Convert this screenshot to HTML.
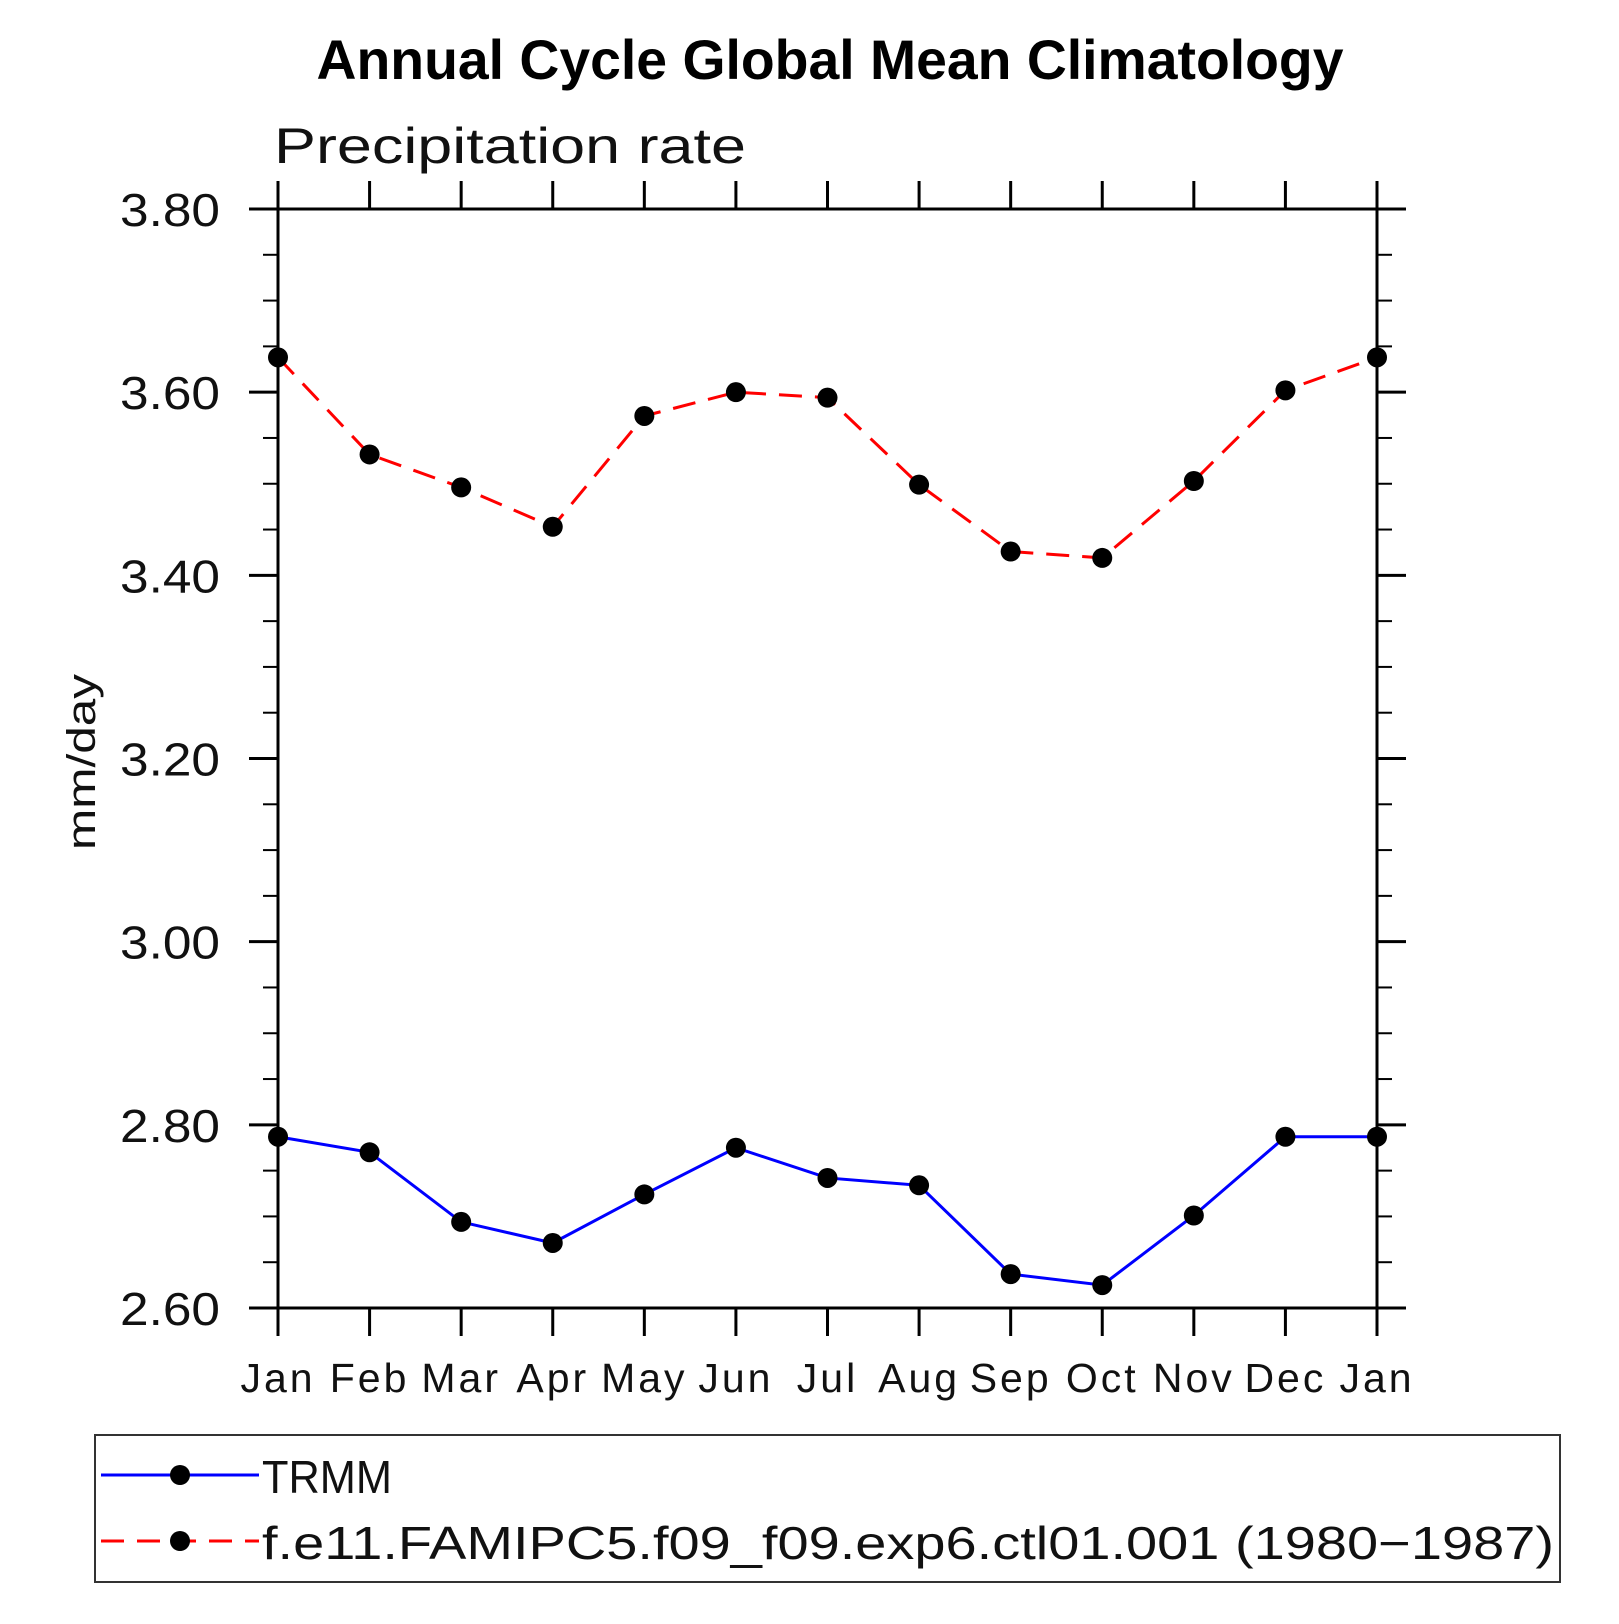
<!DOCTYPE html>
<html><head><meta charset="utf-8"><style>
html,body{margin:0;padding:0;background:#fff}
svg text{font-family:"Liberation Sans",sans-serif}
</style></head><body>
<svg id="chart" width="1619" height="1619" viewBox="0 0 1619 1619" xmlns="http://www.w3.org/2000/svg">
<text x="830" y="79" text-anchor="middle" font-size="56" font-weight="bold" textLength="1027" lengthAdjust="spacingAndGlyphs">Annual Cycle Global Mean Climatology</text>
<text x="274" y="163" font-size="50" fill="#111" textLength="472" lengthAdjust="spacingAndGlyphs">Precipitation rate</text>
<text transform="translate(95,762) rotate(-90)" text-anchor="middle" font-size="40" fill="#111" textLength="176" lengthAdjust="spacingAndGlyphs">mm/day</text>
<g id="axes"></g>
<g id="series"></g>
<rect x="95" y="1435" width="1465" height="147" fill="none" stroke="#333" stroke-width="2"/>
<g>
<line x1="101" y1="1475" x2="259" y2="1475" stroke="#0000ff" stroke-width="3"/>
<circle cx="180" cy="1475" r="10"/>
<text x="262" y="1493" font-size="46" fill="#111" textLength="130" lengthAdjust="spacingAndGlyphs">TRMM</text>
</g>
<g>
<line x1="101" y1="1541" x2="259" y2="1541" stroke="#ff0000" stroke-width="3" stroke-dasharray="23,13"/>
<circle cx="180" cy="1541" r="10"/>
<text x="262" y="1559" font-size="46" fill="#111" textLength="1292" lengthAdjust="spacingAndGlyphs">f.e11.FAMIPC5.f09_f09.exp6.ctl01.001 (1980−1987)</text>
</g>
</svg>
<script>
const months = ["Jan","Feb","Mar","Apr","May","Jun","Jul","Aug","Sep","Oct","Nov","Dec","Jan"];
const trmmValues = [2.787,2.770,2.694,2.671,2.724,2.775,2.742,2.734,2.637,2.625,2.701,2.787,2.787];
const modelValues = [3.638,3.532,3.496,3.453,3.574,3.600,3.594,3.499,3.426,3.419,3.503,3.602,3.638];
const yTickLabels = ["2.60","2.80","3.00","3.20","3.40","3.60","3.80"];
const yMin = 2.6, yMax = 3.8;
const L=278, R=1377, T=209, B=1308;
const NS="http://www.w3.org/2000/svg";
function xs(i){return L+(R-L)*i/(months.length-1);}
function ys(v){return B-(B-T)*(v-yMin)/(yMax-yMin);}
function mk(tag,attrs,parent){const e=document.createElementNS(NS,tag);for(const k in attrs)e.setAttribute(k,attrs[k]);parent.appendChild(e);return e;}
const axes=document.getElementById('axes');
const frame=mk('rect',{x:L,y:T,width:R-L,height:B-T,fill:'none',stroke:'#000','stroke-width':3},axes);


months.forEach((m,i)=>{
  const x=xs(i);
  mk('line',{x1:x,y1:B,x2:x,y2:B+28,stroke:'#000','stroke-width':3},axes);
  mk('line',{x1:x,y1:T,x2:x,y2:T-28,stroke:'#000','stroke-width':3},axes);
  const t=mk('text',{x:x,y:1392,'text-anchor':'middle','font-size':41,fill:'#111','letter-spacing':3},axes);
  t.textContent=m;
  
  
});
for(let k=0;k<=24;k++){
  const v=yMin+k*0.05, y=ys(v), major=k%4===0, len=major?29:15;
  mk('line',{x1:L-len,y1:y,x2:L,y2:y,stroke:'#000','stroke-width':major?3:2},axes);
  mk('line',{x1:R,y1:y,x2:R+len,y2:y,stroke:'#000','stroke-width':major?3:2},axes);
}
yTickLabels.forEach(s=>{
  const y=ys(parseFloat(s));
  const t=mk('text',{x:120,y:y+17,'font-size':46,fill:'#111',textLength:100,lengthAdjust:'spacingAndGlyphs'},axes);
  t.textContent=s;
  
  
});
const series=document.getElementById('series');
function draw(vals,color,dash,name){
  const pts=vals.map((v,i)=>xs(i)+','+ys(v)).join(' ');
  const pl=mk('polyline',{points:pts,fill:'none',stroke:color,'stroke-width':3,'stroke-dasharray':dash},series);
  
  
  vals.forEach((v,i)=>{
    const c=mk('circle',{cx:xs(i),cy:ys(v),r:10,fill:'#000'},series);
    
    
  });
}
draw(modelValues,'#ff0000','23,13','model');
draw(trmmValues,'#0000ff','none','trmm');
</script>
</body></html>
